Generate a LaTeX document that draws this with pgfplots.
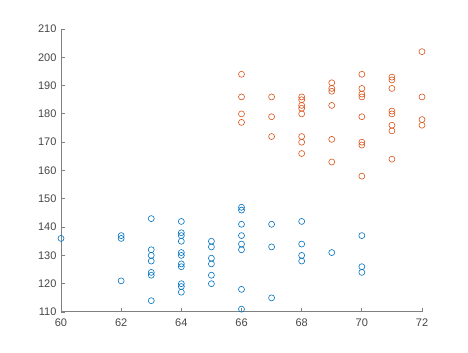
\documentclass[border=0pt]{standalone}
\usepackage{fontspec}
\setmainfont{Liberation Sans}
\usepackage{pgfplots}
\pgfplotsset{compat=1.18}
\definecolor{mblue}{rgb}{0,0.447,0.741}
\definecolor{morange}{rgb}{0.85,0.325,0.098}
\definecolor{axgray}{RGB}{128,128,128}
\definecolor{txtgray}{RGB}{70,70,70}
\begin{document}
\begin{tikzpicture}[x=1pt,y=1pt]
\path[use as bounding box] (0,0) rectangle (468,353);
\begin{axis}[
  at={(61pt,41pt)}, anchor=south west,
  width=361pt, height=283pt, scale only axis,
  xmin=60, xmax=72, ymin=110, ymax=210,
  xtick={60,62,...,72}, ytick={110,120,...,210},
  axis x line=bottom, axis y line=left,
  axis line style={-, axgray, line width=1pt},
  tick style={axgray, line width=0.8pt},
  tick align=inside, major tick length=4pt,
  tick label style={font=\fontsize{11}{13}\selectfont, text=txtgray},
  xticklabel style={yshift=-3pt},
  yticklabel style={xshift=-1pt},
  /pgf/number format/assume math mode=true,
  clip=false,
]
\addplot[only marks, mark=o, mark size=3pt, mblue, mark options={line width=0.6pt}] coordinates {
(60,136)
(62,137)(62,136)(62,121)
(63,143)(63,132)(63,130)(63,128)(63,124)(63,123)(63,114)
(64,142)(64,138)(64,137)(64,135)(64,131)(64,130)(64,127)(64,126)(64,120)(64,119)(64,117)
(65,135)(65,133)(65,129)(65,127)(65,123)(65,120)
(66,147)(66,146)(66,141)(66,137)(66,134)(66,132)(66,118)(66,111)
(67,141)(67,133)(67,115)
(68,142)(68,134)(68,130)(68,128)
(69,131)
(70,137)(70,126)(70,124)
};
\addplot[only marks, mark=o, mark size=3pt, morange, mark options={line width=0.6pt}] coordinates {
(66,194)(66,186)(66,180)(66,177)
(67,186)(67,179)(67,172)
(68,186)(68,185)(68,183)(68,182)(68,180)(68,172)(68,170)(68,166)
(69,191)(69,189)(69,188)(69,183)(69,171)(69,163)
(70,194)(70,189)(70,187)(70,186)(70,179)(70,170)(70,169)(70,158)
(71,193)(71,192)(71,189)(71,181)(71,180)(71,176)(71,174)(71,164)
(72,202)(72,186)(72,178)(72,176)
};
\end{axis}
\end{tikzpicture}
\end{document}
